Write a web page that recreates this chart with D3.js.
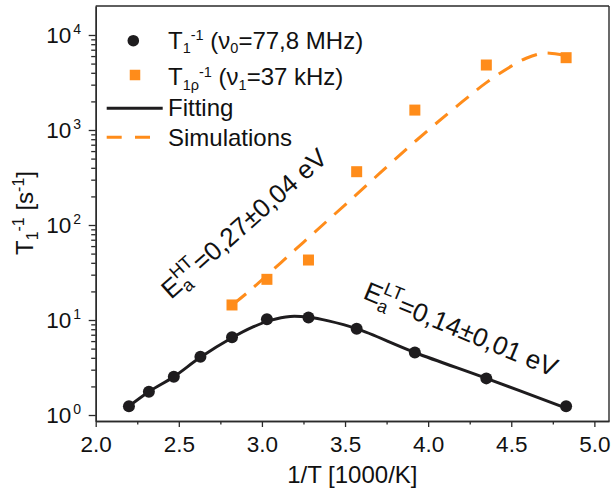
<!DOCTYPE html>
<html>
<head>
<meta charset="utf-8">
<script src="https://cdn.jsdelivr.net/npm/d3@7/dist/d3.min.js"></script>
<style>
  html, body { margin: 0; padding: 0; background: #fff; }
  svg { display: block; font-family: "Liberation Sans", Arial, sans-serif; }
</style>
</head>
<body>
<svg id="chart" width="611" height="502"></svg>
<script>
// ---- data ----
const t1X = [2.20, 2.32, 2.47, 2.63, 2.82, 3.03, 3.28, 3.57, 3.92, 4.35, 4.83];
const t1Y = [1.24, 1.76, 2.53, 4.11, 6.6, 10.2, 10.6, 8.1, 4.55, 2.43, 1.24];
const t1rhoX = [2.82, 3.03, 3.28, 3.57, 3.92, 4.35, 4.83];
const t1rhoY = [14.4, 26.8, 42.8, 364, 1620, 4830, 5770];
const fitX = [2.20, 2.32, 2.47, 2.63, 2.82, 2.95, 3.05, 3.17, 3.28, 3.40, 3.57, 3.92, 4.35, 4.83];
const fitY = [1.24, 1.76, 2.53, 4.05, 6.5, 8.5, 9.9, 10.9, 10.7, 9.8, 8.1, 4.55, 2.43, 1.18];
const simX = [2.83, 2.92, 3.20, 3.51, 3.93, 4.20, 4.35, 4.50, 4.59, 4.70, 4.80, 4.83];
const simY = [14.8, 19.9, 55, 169, 780, 1950, 3150, 4700, 5690, 6470, 6200, 6050];
const xTicks = [2.0, 2.5, 3.0, 3.5, 4.0, 4.5, 5.0];
const xMinorTicks = [2.25, 2.75, 3.25, 3.75, 4.25, 4.75];
const yTicks = [1, 10, 100, 1000, 10000];
const yTickExp = ["0", "1", "2", "3", "4"];

const orange = "#ff8c1a";
const dark = "#1e1c1e";

const svg = d3.select("#chart");
const x = d3.scaleLinear().domain([2.0, 5.088]).range([95.7, 609]);
const y = d3.scaleLog().domain([0.865, 20190]).range([421, 6]);

// minor y ticks
const yMinor = [];
for (let d = 1; d <= 1000; d *= 10) for (let k = 2; k <= 9; k++) yMinor.push(d * k);

const axisColor = "#2a2a2a";

// frame top & right
svg.append("line").attr("x1", x.range()[0]).attr("x2", x.range()[1])
  .attr("y1", y.range()[1]).attr("y2", y.range()[1])
  .attr("stroke", axisColor).attr("stroke-width", 1.4);
svg.append("line").attr("x1", x.range()[1]).attr("x2", x.range()[1])
  .attr("y1", y.range()[0]).attr("y2", y.range()[1])
  .attr("stroke", axisColor).attr("stroke-width", 1.4);

// x axis
const gx = svg.append("g").attr("transform", `translate(0,${y.range()[0]})`)
  .call(d3.axisBottom(x).tickValues(xTicks).tickFormat(d3.format(".1f"))
    .tickSize(6).tickSizeOuter(0).tickPadding(9));
const gxm = svg.append("g").attr("transform", `translate(0,${y.range()[0]})`)
  .call(d3.axisBottom(x).tickValues(xMinorTicks).tickFormat("").tickSize(3.5).tickSizeOuter(0));
// y axis
const gy = svg.append("g").attr("transform", `translate(${x.range()[0]},0)`)
  .call(d3.axisLeft(y).tickValues(yTicks).tickFormat("").tickSize(7).tickSizeOuter(0));
const gym = svg.append("g").attr("transform", `translate(${x.range()[0]},0)`)
  .call(d3.axisLeft(y).tickValues(yMinor).tickFormat("").tickSize(4.5).tickSizeOuter(0));

[gx, gxm, gy, gym].forEach(g => {
  g.selectAll("path.domain").attr("stroke", axisColor).attr("stroke-width", 1.4);
  g.selectAll(".tick line").attr("stroke", axisColor).attr("stroke-width", 1.3);
});
gx.selectAll(".tick text").attr("font-size", 22.5).attr("fill", "#111")
  .attr("font-family", "Liberation Sans, Arial, sans-serif");

// y tick labels 10^n
yTicks.forEach((v, i) => {
  const t = svg.append("text").attr("x", 81).attr("y", y(v)).attr("dy", "0.36em")
    .attr("text-anchor", "end").attr("font-size", 22.5).attr("fill", "#111");
  t.append("tspan").text("10");
  t.append("tspan").attr("font-size", 14).attr("dx", 2).attr("dy", -9.5).text(yTickExp[i]);
});

// axis titles
svg.append("text").attr("x", (x.range()[0] + x.range()[1]) / 2).attr("y", 483)
  .attr("text-anchor", "middle").attr("font-size", 24).attr("fill", "#111").text("1/T [1000/K]");

const yt = svg.append("text").attr("transform", "translate(33,213) rotate(-90)")
  .attr("text-anchor", "middle").attr("font-size", 24).attr("fill", "#111");
yt.append("tspan").text("T");
yt.append("tspan").attr("font-size", 16).attr("dy", 5).text("1");
yt.append("tspan").attr("font-size", 16).attr("dy", -14).text("-1");
yt.append("tspan").attr("dy", 9).text(" [s");
yt.append("tspan").attr("font-size", 16).attr("dy", -9).text("-1");
yt.append("tspan").attr("dy", 9).text("]");

// lines
const line = d3.line().x(d => x(d[0])).y(d => y(d[1])).curve(d3.curveCatmullRom.alpha(0.5));
svg.append("path").datum(fitX.map((v, i) => [v, fitY[i]])).attr("d", line)
  .attr("fill", "none").attr("stroke", dark).attr("stroke-width", 3);
svg.append("path").datum(simX.map((v, i) => [v, simY[i]])).attr("d", line)
  .attr("fill", "none").attr("stroke", orange).attr("stroke-width", 3)
  .attr("stroke-dasharray", "16,11");

// markers
svg.append("g").selectAll("circle").data(t1X.map((v, i) => [v, t1Y[i]])).join("circle")
  .attr("cx", d => x(d[0])).attr("cy", d => y(d[1])).attr("r", 6).attr("fill", dark);
const sq = 11;
svg.append("g").selectAll("rect").data(t1rhoX.map((v, i) => [v, t1rhoY[i]])).join("rect")
  .attr("x", d => x(d[0]) - sq / 2).attr("y", d => y(d[1]) - sq / 2)
  .attr("width", sq).attr("height", sq).attr("fill", orange);

// legend
const lg = svg.append("g");
lg.append("circle").attr("cx", 133.3).attr("cy", 40.7).attr("r", 5.8).attr("fill", dark);
lg.append("rect").attr("x", 135 - 5.25).attr("y", 75 - 5.25).attr("width", 10.5).attr("height", 10.5).attr("fill", orange);
lg.append("line").attr("x1", 106.7).attr("x2", 162.7).attr("y1", 108.3).attr("y2", 108.3)
  .attr("stroke", dark).attr("stroke-width", 3);
lg.append("line").attr("x1", 106.7).attr("x2", 162.7).attr("y1", 137.3).attr("y2", 137.3)
  .attr("stroke", orange).attr("stroke-width", 3).attr("stroke-dasharray", "15,13.3");

const fs = 24, sfs = 14.5;
const l1 = lg.append("text").attr("x", 168).attr("y", 48.5).attr("font-size", fs).attr("fill", "#111");
l1.append("tspan").text("T");
l1.append("tspan").attr("font-size", sfs).attr("dy", 4.5).text("1");
l1.append("tspan").attr("font-size", sfs).attr("dy", -13).text("-1");
l1.append("tspan").attr("dy", 8.5).text(" (ν");
l1.append("tspan").attr("font-size", sfs).attr("dy", 4.5).text("0");
l1.append("tspan").attr("dy", -4.5).text("=77,8 MHz)");

const l2 = lg.append("text").attr("x", 168).attr("y", 85).attr("font-size", fs).attr("fill", "#111");
l2.append("tspan").text("T");
l2.append("tspan").attr("font-size", sfs).attr("dy", 4.5).text("1ρ");
l2.append("tspan").attr("font-size", sfs).attr("dy", -13).text("-1");
l2.append("tspan").attr("dy", 8.5).text(" (ν");
l2.append("tspan").attr("font-size", sfs).attr("dy", 4.5).text("1");
l2.append("tspan").attr("dy", -4.5).text("=37 kHz)");

lg.append("text").attr("x", 168).attr("y", 116).attr("font-size", fs).attr("fill", "#111").text("Fitting");
lg.append("text").attr("x", 168).attr("y", 145.5).attr("font-size", fs).attr("fill", "#111").text("Simulations");

// annotations with stacked sub/superscript
function energyLabel(px, py, angle, sup, rest) {
  const t = svg.append("text").attr("transform", `translate(${px},${py}) rotate(${angle})`)
    .attr("font-size", 26).attr("fill", "#111");
  t.append("tspan").text("E");
  const a = t.append("tspan").attr("font-size", 18).attr("dy", 6).text("a");
  const aw = a.node().getComputedTextLength();
  t.append("tspan").attr("font-size", 18).attr("dx", -aw).attr("dy", -18).text(sup);
  t.append("tspan").attr("dy", 12).text(rest);
}
energyLabel(171, 300, -41.5, "HT", "=0,27±0,04 eV");
energyLabel(362, 298, 22.5, "LT", "=0,14±0,01 eV");
</script>
</body>
</html>
